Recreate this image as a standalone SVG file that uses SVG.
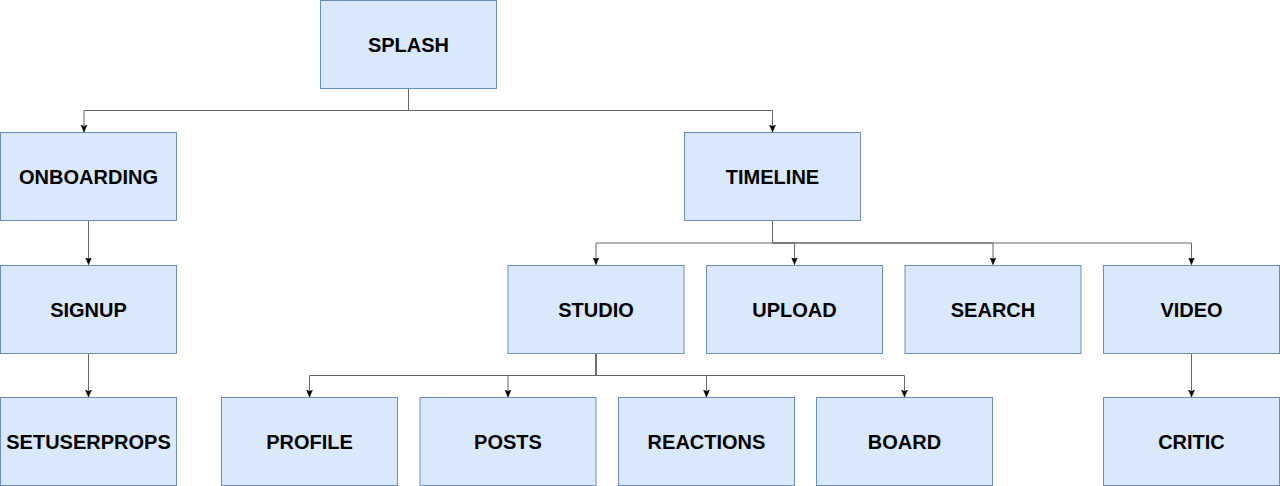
<svg xmlns="http://www.w3.org/2000/svg" width="1280" height="486" viewBox="0 0 1280 486">
<style>
.box{fill:#dae8fc;stroke:#6c8ebf;stroke-width:1}
.lbl{font-family:"Liberation Sans",Arial,sans-serif;font-weight:bold;font-size:20px;fill:#000;text-anchor:middle}
.edge{fill:none;stroke:#666;stroke-width:1;marker-end:url(#arr)}
</style>
<defs>
<marker id="arr" markerWidth="8" markerHeight="8" refX="7" refY="3.5" orient="auto" markerUnits="userSpaceOnUse">
<path d="M0,0.5 L7,3.5 L0,6.5 L1.5,3.5 Z" fill="#000" stroke="#000" stroke-width="0.5"/>
</marker>
</defs>
<rect width="1280" height="486" fill="#fff"/>
<g id="connectors">
<path class="edge" d="M408.5,88.5 V110.5 H84 V132"/>
<path class="edge" d="M408.5,88.5 V110.5 H772.5 V132"/>
<path class="edge" d="M88.5,221 V264.5"/>
<path class="edge" d="M88.5,353.5 V397"/>
<path class="edge" d="M772.5,221 V243 H596 V264.5"/>
<path class="edge" d="M772.5,221 V243 H794.5 V264.5"/>
<path class="edge" d="M772.5,221 V243 H993 V264.5"/>
<path class="edge" d="M772.5,221 V243 H1191.5 V264.5"/>
<path class="edge" d="M596,353.5 V375.5 H309.5 V397"/>
<path class="edge" d="M596,353.5 V375.5 H508 V397"/>
<path class="edge" d="M596,353.5 V375.5 H706.5 V397"/>
<path class="edge" d="M596,353.5 V375.5 H904.5 V397"/>
<path class="edge" d="M1191.5,353.5 V397"/>
</g>
<g id="splash"><rect class="box" x="320.5" y="0.5" width="176" height="88"/><text class="lbl" x="408.5" y="51.5">SPLASH</text></g>
<g id="onboarding"><rect class="box" x="0.5" y="132.5" width="176" height="88"/><text class="lbl" x="88.5" y="183.5">ONBOARDING</text></g>
<g id="timeline"><rect class="box" x="684.5" y="132.5" width="176" height="88"/><text class="lbl" x="772.5" y="183.5">TIMELINE</text></g>
<g id="signup"><rect class="box" x="0.5" y="265.5" width="176" height="88"/><text class="lbl" x="88.5" y="316.5">SIGNUP</text></g>
<g id="studio"><rect class="box" x="508" y="265.5" width="176" height="88"/><text class="lbl" x="596" y="316.5">STUDIO</text></g>
<g id="upload"><rect class="box" x="706.5" y="265.5" width="176" height="88"/><text class="lbl" x="794.5" y="316.5">UPLOAD</text></g>
<g id="search"><rect class="box" x="905" y="265.5" width="176" height="88"/><text class="lbl" x="993" y="316.5">SEARCH</text></g>
<g id="video"><rect class="box" x="1103.5" y="265.5" width="176" height="88"/><text class="lbl" x="1191.5" y="316.5">VIDEO</text></g>
<g id="setuserprops"><rect class="box" x="0.5" y="397.5" width="176" height="88"/><text class="lbl" x="88.5" y="448.5">SETUSERPROPS</text></g>
<g id="profile"><rect class="box" x="221.5" y="397.5" width="176" height="88"/><text class="lbl" x="309.5" y="448.5">PROFILE</text></g>
<g id="posts"><rect class="box" x="420" y="397.5" width="176" height="88"/><text class="lbl" x="508" y="448.5">POSTS</text></g>
<g id="reactions"><rect class="box" x="618.5" y="397.5" width="176" height="88"/><text class="lbl" x="706.5" y="448.5">REACTIONS</text></g>
<g id="board"><rect class="box" x="816.5" y="397.5" width="176" height="88"/><text class="lbl" x="904.5" y="448.5">BOARD</text></g>
<g id="critic"><rect class="box" x="1103.5" y="397.5" width="176" height="88"/><text class="lbl" x="1191.5" y="448.5">CRITIC</text></g>
</svg>
